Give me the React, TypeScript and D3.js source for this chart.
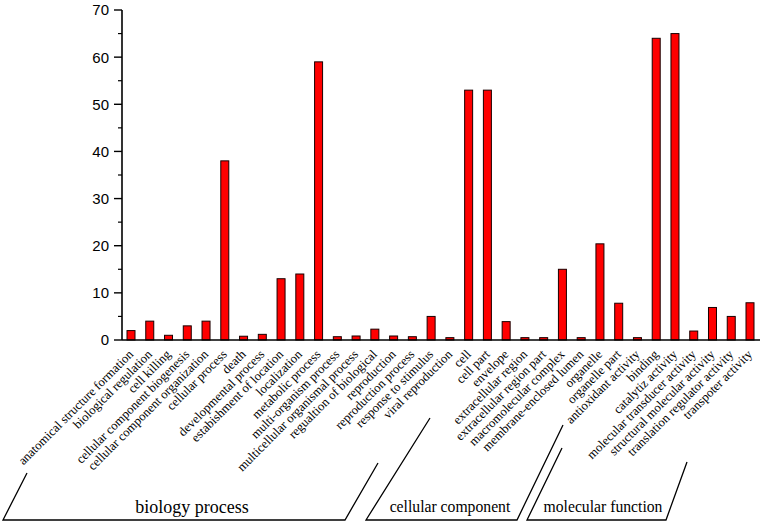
import React from "react";
import * as d3 from "d3";

const bioCategories = [
  "anatomical structure formation",
  "biological regulation",
  "cell killing",
  "cellular component biogenesis",
  "cellular component organization",
  "cellular process",
  "death",
  "developmental process",
  "estabishment of location",
  "localization",
  "metabolic process",
  "multi-organism process",
  "multicellular organismal process",
  "regualtion of biological",
  "reproduction",
  "reproduction process",
  "response to stimulus",
  "viral reproduction",
];
const bioValues = [2, 4, 1, 3, 4, 38, 0.8, 1.2, 13, 14, 59, 0.7, 0.85, 2.3, 0.85, 0.7, 5, 0.5];

const cellCategories = [
  "cell",
  "cell part",
  "envelope",
  "extracellular region",
  "extracellular region part",
  "macromolecular complex",
  "membrane-enclosed lumen",
  "organelle",
  "organelle part",
];
const cellValues = [53, 53, 3.9, 0.5, 0.5, 15, 0.5, 20.4, 7.8];

const molCategories = [
  "antioxidant activity",
  "binding",
  "catalytiz activity",
  "molecular transducer activity",
  "structural molecular activity",
  "translation regulator activity",
  "transpoter activity",
];
const molValues = [0.5, 64, 65, 1.9, 6.9, 5, 7.9];

const groupNames = ["biology process", "cellular component", "molecular function"];
const yTicks = [0, 10, 20, 30, 40, 50, 60, 70];

const W = 764;
const H = 525;
const AXIS_X = 122;
const Y0 = 340;
const Y1 = 10;

export default function App() {
  const categories = [...bioCategories, ...cellCategories, ...molCategories];
  const values = [...bioValues, ...cellValues, ...molValues];

  const x = d3.scalePoint<string>().domain(categories).range([131, 750]);
  const y = d3.scaleLinear().domain([0, 70]).range([Y0, Y1]);
  const barW = 8;

  const minorTicks = d3.range(5, 70, 10);

  // bracket geometry (layout only)
  const brackets = [
    { l: [[3, 520], [27, 473]], r: [[345, 520], [378, 463]], label: [192, 513], size: 18 },
    { l: [[366, 520], [430, 418]], r: [[517, 520], [563, 425]], label: [450, 512], size: 15.7 },
    { l: [[527, 520], [562, 448]], r: [[666, 520], [687, 462]], label: [603, 512], size: 15.7 },
  ];

  return (
    <svg
      width={W}
      height={H}
      style={{ position: "absolute", left: 0, top: 0, background: "#fff" }}
    >
      <rect width={W} height={H} fill="#fff" />
      {/* bars */}
      {categories.map((c, i) => (
        <rect
          key={c}
          x={(x(c) as number) - barW / 2}
          y={y(values[i])}
          width={barW}
          height={Y0 - y(values[i])}
          fill="#ff0000"
          stroke="#1a0000"
          strokeWidth={1}
        />
      ))}
      {/* axes */}
      <line x1={AXIS_X} x2={AXIS_X} y1={Y1} y2={Y0} stroke="#000" strokeWidth={1.6} />
      <line x1={AXIS_X} x2={760} y1={Y0} y2={Y0} stroke="#000" strokeWidth={1.6} />
      {yTicks.map((t) => (
        <g key={t}>
          <line x1={AXIS_X - 8} x2={AXIS_X} y1={y(t)} y2={y(t)} stroke="#000" strokeWidth={1.4} />
          <text
            x={AXIS_X - 13}
            y={y(t)}
            dy="0.36em"
            textAnchor="end"
            fontFamily="'Liberation Sans', Arial, sans-serif"
            fontSize={15}
            fill="#000"
          >
            {t}
          </text>
        </g>
      ))}
      {minorTicks.map((t) => (
        <line key={t} x1={AXIS_X - 4} x2={AXIS_X} y1={y(t)} y2={y(t)} stroke="#000" strokeWidth={1.2} />
      ))}
      {/* category labels */}
      {categories.map((c) => (
        <text
          key={c}
          transform={`translate(${(x(c) as number) + 3},${355}) rotate(-45)`}
          textAnchor="end"
          fontFamily="'Liberation Serif', 'Times New Roman', serif"
          fontSize={12.7}
          fill="#000"
        >
          {c}
        </text>
      ))}
      {/* group brackets */}
      {brackets.map((b, i) => (
        <g key={groupNames[i]}>
          <polyline
            points={[b.l[1], b.l[0], b.r[0], b.r[1]].map((p) => p.join(",")).join(" ")}
            fill="none"
            stroke="#000"
            strokeWidth={1.3}
          />
          <text
            x={b.label[0]}
            y={b.label[1]}
            textAnchor="middle"
            fontFamily="'Liberation Serif', 'Times New Roman', serif"
            fontSize={b.size}
            fill="#000"
          >
            {groupNames[i]}
          </text>
        </g>
      ))}
    </svg>
  );
}
